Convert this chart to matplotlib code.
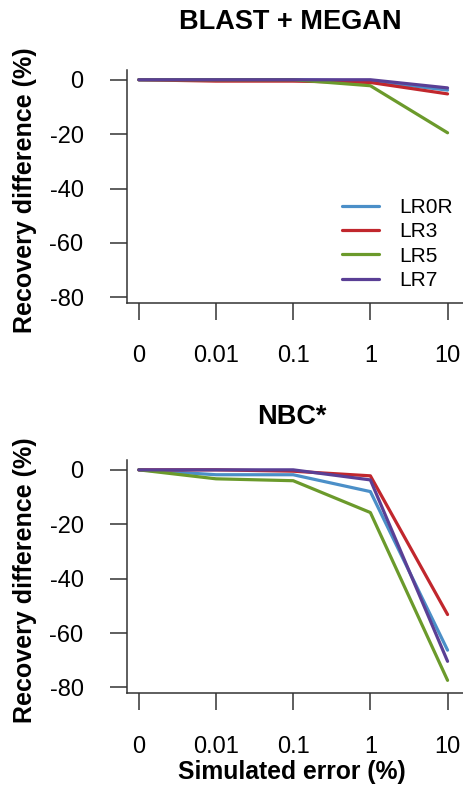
import matplotlib.pyplot as plt

plt.rcParams['font.family'] = ['Liberation Sans', 'DejaVu Sans']

# simulated error levels (%)
error_labels = ['0', '0.01', '0.1', '1', '10']
series_names = ['LR0R', 'LR3', 'LR5', 'LR7']
series_colors = ['#4b8fc8', '#c1272d', '#6b9a2b', '#5a3f95']

# BLAST + MEGAN recovery difference (%)
blast_lr0r = [0, 0, 0, -0.5, -3.8]
blast_lr3 = [0, -0.5, -0.5, -1.0, -5.2]
blast_lr5 = [0, 0, 0, -2.2, -19.5]
blast_lr7 = [0, 0, 0, 0, -3.0]

# NBC* recovery difference (%)
nbc_lr0r = [0, -1.8, -1.8, -8.0, -66.3]
nbc_lr3 = [0, 0, -0.5, -2.2, -53.2]
nbc_lr5 = [0, -3.3, -4.0, -15.7, -77.4]
nbc_lr7 = [0, 0, 0, -3.7, -70.4]

blast = [blast_lr0r, blast_lr3, blast_lr5, blast_lr7]
nbc = [nbc_lr0r, nbc_lr3, nbc_lr5, nbc_lr7]

fig = plt.figure(figsize=(4.63, 8.01), dpi=100)
ax_top = fig.add_axes([0.274, 0.622, 0.726, 0.291])
ax_bot = fig.add_axes([0.274, 0.135, 0.726, 0.291])

x = range(len(error_labels))


def style_axis(ax):
    ax.set_xlim(-0.155, 4.2)
    ax.set_ylim(-82, 3.7)
    ax.spines['top'].set_visible(False)
    ax.spines['right'].set_visible(False)
    for s in ['left', 'bottom']:
        ax.spines[s].set_linewidth(1.1)
        ax.spines[s].set_color('#333333')
    ax.set_yticks([0, -20, -40, -60, -80])
    ax.set_yticklabels(['0', '-20', '-40', '-60', '-80'])
    ax.set_xticks(list(x))
    ax.set_xticklabels(error_labels)
    ax.tick_params(axis='y', length=12.2, width=1.1, pad=19, labelsize=17, color='#333333')
    ax.tick_params(axis='x', length=12.2, width=1.1, pad=18.5, labelsize=17, color='#333333')
    ax.set_ylabel('Recovery difference (%)', fontsize=18, fontweight='bold')
    ax.yaxis.set_label_coords(-0.268, 0.483)


for vals, name, col in zip(blast, series_names, series_colors):
    ax_top.plot(x, vals, color=col, lw=2.3, label=name, solid_capstyle='round')
for vals, name, col in zip(nbc, series_names, series_colors):
    ax_bot.plot(x, vals, color=col, lw=2.3, label=name, solid_capstyle='round')

style_axis(ax_top)
style_axis(ax_bot)
ax_bot.set_xlabel('Simulated error (%)', fontsize=17.8, fontweight='bold')
ax_bot.xaxis.set_label_coords(0.49, -0.29)

fig.text(290 / 463, 1 - 22 / 801, 'BLAST + MEGAN', fontsize=19.5, fontweight='bold',
         ha='center', va='center')
fig.text(292 / 463, 1 - 417 / 801, 'NBC*', fontsize=19.5, fontweight='bold',
         ha='center', va='center')

ax_top.legend(loc='lower right', frameon=False, fontsize=15, handlelength=1.8,
              handletextpad=0.95, labelspacing=0.25, bbox_to_anchor=(1.025, -0.025))

fig.savefig('out.png', dpi=100)
